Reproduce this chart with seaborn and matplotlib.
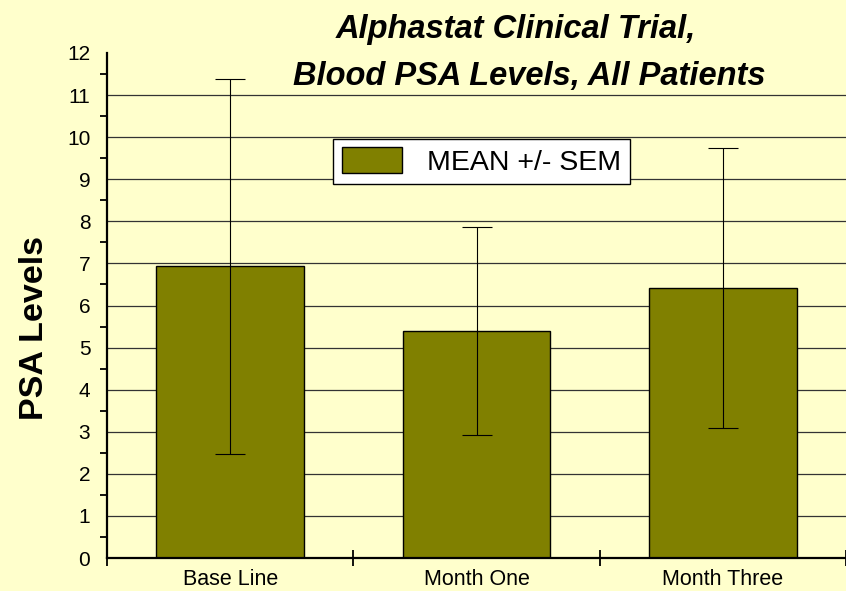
import pandas as pd
import seaborn as sns
import matplotlib.pyplot as plt
from matplotlib.patches import Patch
from matplotlib.ticker import MultipleLocator, FixedLocator

categories = ['Base Line', 'Month One', 'Month Three']
means = [6.93, 5.40, 6.41]
sem = [4.46, 2.47, 3.33]
legend_label = 'MEAN +/- SEM'
title_lines = ['Alphastat Clinical Trial,', 'Blood PSA Levels, All Patients']
y_label = 'PSA Levels'

bg = '#FFFFCC'
bar_color = '#808000'

sns.set_theme(style='white')
plt.rcParams['font.family'] = ['Liberation Sans', 'DejaVu Sans']
plt.rcParams.update({'text.color': 'black', 'axes.labelcolor': 'black',
                     'xtick.color': 'black', 'ytick.color': 'black'})

df = pd.DataFrame({'period': categories, 'psa': means})

fig = plt.figure(figsize=(8.46, 5.91), dpi=100, facecolor=bg)
ax = fig.add_axes([107 / 846, 33 / 591, 739 / 846, 505 / 591])
ax.set_facecolor(bg)

sns.barplot(data=df, x='period', y='psa', color=bar_color, saturation=1,
            width=0.6, edgecolor='black', linewidth=1, errorbar=None,
            ax=ax, zorder=2)
ax.errorbar(range(len(categories)), means, yerr=sem, fmt='none',
            ecolor='black', elinewidth=0.8, capsize=11, capthick=0.8,
            zorder=3)

ax.set_xlim(-0.5, 2.5)
ax.set_ylim(0, 12)
ax.yaxis.set_major_locator(MultipleLocator(1))
ax.yaxis.set_minor_locator(MultipleLocator(0.5))
ax.xaxis.set_minor_locator(FixedLocator([-0.5, 0.5, 1.5, 2.5]))

# horizontal grid, none on the top edge
ax.grid(False)
for v in range(1, 12):
    ax.axhline(v, color='#333333', linewidth=0.9, zorder=0)

for side in ['top', 'right']:
    ax.spines[side].set_visible(False)
for side in ['left', 'bottom']:
    ax.spines[side].set_color('black')
    ax.spines[side].set_linewidth(1.6)
    ax.spines[side].set_zorder(4)

ax.tick_params(axis='y', which='major', direction='out', length=9,
               width=1.3, labelsize=15, pad=3)
ax.tick_params(axis='y', which='minor', direction='out', length=5,
               width=1.3, left=True)
ax.tick_params(axis='x', which='major', length=0, labelsize=15.5, pad=8)
ax.tick_params(axis='x', which='minor', direction='inout', length=12,
               width=1.3, bottom=True)
ax.set_xlabel('')
ax.set_ylabel('')

fig.text(35 / 846, 1 - 328 / 591, y_label, rotation=90, ha='center',
         va='center', fontsize=24.5, fontweight='bold')
fig.text(516 / 846, 1 - 38 / 591, title_lines[0], ha='center',
         va='baseline', fontsize=23.5, fontweight='bold', style='italic')
fig.text(529 / 846, 1 - 85 / 591, title_lines[1], ha='center',
         va='baseline', fontsize=23.5, fontweight='bold', style='italic')

handle = Patch(facecolor=bar_color, edgecolor='black', linewidth=1)
leg = ax.legend([handle], [legend_label], loc='center',
                bbox_to_anchor=(0.507, 0.785), fontsize=20.5,
                frameon=True, fancybox=False, framealpha=1,
                edgecolor='black', facecolor='white', borderpad=0.3,
                handlelength=2.1, handleheight=1.0, handletextpad=0.9,
                borderaxespad=0)
leg.get_frame().set_linewidth(1)
leg.set_zorder(5)

fig.savefig('out.png', dpi=100, facecolor=bg)
